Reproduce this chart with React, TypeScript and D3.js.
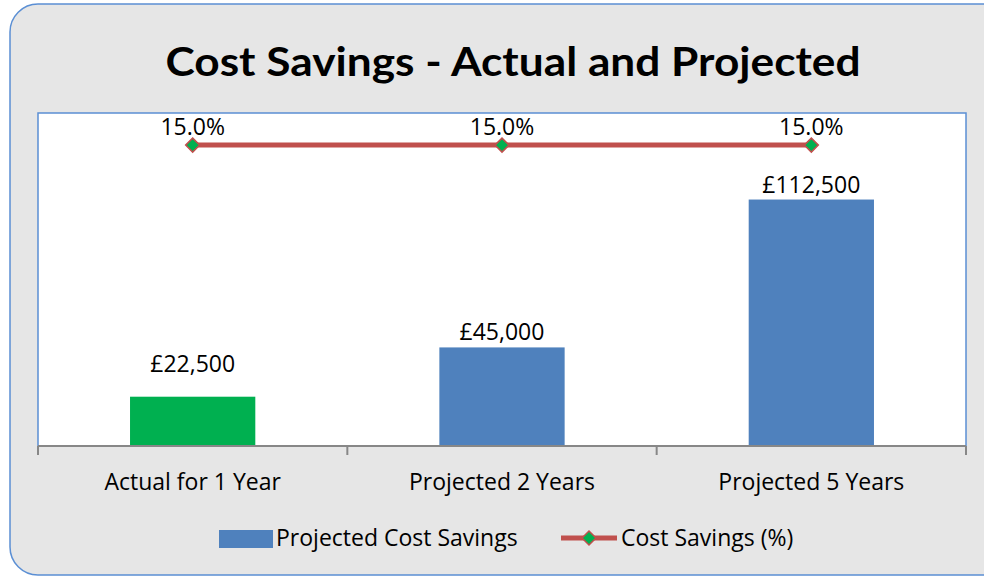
import { useMemo } from "react";
import * as d3 from "d3";

const WIDTH = 984;
const HEIGHT = 577;

const categories = ["Actual for 1 Year", "Projected 2 Years", "Projected 5 Years"];
const savings = [22500, 45000, 112500];
const savingsPct = [0.15, 0.15, 0.15];
const barColors = ["#00b050", "#4f81bd", "#4f81bd"];
// gap between bar top and its value label, as Excel placed them
const labelGap = [25, 7, 7];

const PLOT = { left: 38, right: 966, top: 113, bottom: 446 };
const FONT = "'Open Sans', Lato, sans-serif";
const FS = 23;

const fmtMoney = (v: number) => "£" + d3.format(",")(v);
const fmtPct = d3.format(".1%");

export default function App() {
  const x = useMemo(
    () =>
      d3
        .scaleBand<string>()
        .domain(categories)
        .range([PLOT.left, PLOT.right])
        .paddingInner(0)
        .paddingOuter(0),
    []
  );
  const y = useMemo(
    () => d3.scaleLinear().domain([0, 152000]).range([PLOT.bottom, PLOT.top]),
    []
  );
  const y2 = useMemo(
    () => d3.scaleLinear().domain([0, 0.166]).range([PLOT.bottom, PLOT.top]),
    []
  );

  const barW = x.bandwidth() * 0.405;
  const cx = (c: string) => (x(c) ?? 0) + x.bandwidth() / 2;

  const linePath = d3
    .line<number>()
    .x((_, i) => cx(categories[i]))
    .y((d) => y2(d))(savingsPct);

  const boundaries = [...categories.map((c) => x(c) ?? 0), PLOT.right];

  const diamond = (px: number, py: number, r: number) =>
    `M${px},${py - r}L${px + r},${py}L${px},${py + r}L${px - r},${py}Z`;

  return (
    <svg
      width={WIDTH}
      height={HEIGHT}
      style={{ position: "absolute", left: 0, top: 0, display: "block" }}
      fontFamily={FONT}
    >
      <rect x={0} y={0} width={WIDTH} height={HEIGHT} fill="#ffffff" />
      <rect
        x={10}
        y={4}
        width={1000}
        height={571}
        rx={28}
        fill="#e6e6e6"
        stroke="#5b8fd4"
        strokeWidth={1.5}
      />

      <text
        x={513}
        y={76}
        textAnchor="middle"
        fontSize={40}
        fontWeight="bold"
        fontFamily="Lato, sans-serif"
        fill="#000"
        textLength={695}
        lengthAdjust="spacingAndGlyphs"
      >
        Cost Savings - Actual and Projected
      </text>

      {/* plot area */}
      <rect
        x={PLOT.left}
        y={PLOT.top}
        width={PLOT.right - PLOT.left}
        height={PLOT.bottom - PLOT.top}
        fill="#ffffff"
        stroke="#5b8fd4"
        strokeWidth={1.5}
      />

      {categories.map((c, i) => (
        <rect
          key={c}
          x={cx(c) - barW / 2}
          y={y(savings[i])}
          width={barW}
          height={PLOT.bottom - y(savings[i])}
          fill={barColors[i]}
        />
      ))}

      {/* category axis */}
      <line
        x1={PLOT.left}
        x2={PLOT.right}
        y1={PLOT.bottom}
        y2={PLOT.bottom}
        stroke="#878787"
        strokeWidth={2}
      />
      {boundaries.map((b, i) => (
        <line
          key={i}
          x1={b}
          x2={b}
          y1={PLOT.bottom}
          y2={PLOT.bottom + 9}
          stroke="#878787"
          strokeWidth={2}
        />
      ))}
      {categories.map((c) => (
        <text key={c} x={cx(c)} y={490} textAnchor="middle" fontSize={FS} fill="#000">
          {c}
        </text>
      ))}

      {/* bar labels */}
      {categories.map((c, i) => (
        <text
          key={c}
          x={cx(c)}
          y={y(savings[i]) - labelGap[i]}
          textAnchor="middle"
          fontSize={FS}
          fill="#000"
        >
          {fmtMoney(savings[i])}
        </text>
      ))}

      {/* percent line */}
      <path d={linePath ?? ""} fill="none" stroke="#c0504d" strokeWidth={5} />
      {savingsPct.map((v, i) => (
        <g key={i}>
          <path
            d={diamond(cx(categories[i]), y2(v), 7)}
            fill="#00b050"
            stroke="#c0504d"
            strokeWidth={1.5}
          />
          <text
            x={cx(categories[i])}
            y={y2(v) - 10}
            textAnchor="middle"
            fontSize={FS}
            fill="#000"
          >
            {fmtPct(v)}
          </text>
        </g>
      ))}

      {/* legend */}
      <rect x={219} y={530} width={54} height={18} fill="#4f81bd" />
      <text x={276} y={546} fontSize={FS} fill="#000">
        Projected Cost Savings
      </text>
      <line x1={561} x2={617} y1={538} y2={538} stroke="#c0504d" strokeWidth={5} />
      <path d={diamond(589, 538, 7)} fill="#00b050" stroke="#c0504d" strokeWidth={1.5} />
      <text x={621} y={546} fontSize={FS} fill="#000">
        Cost Savings (%)
      </text>
    </svg>
  );
}
